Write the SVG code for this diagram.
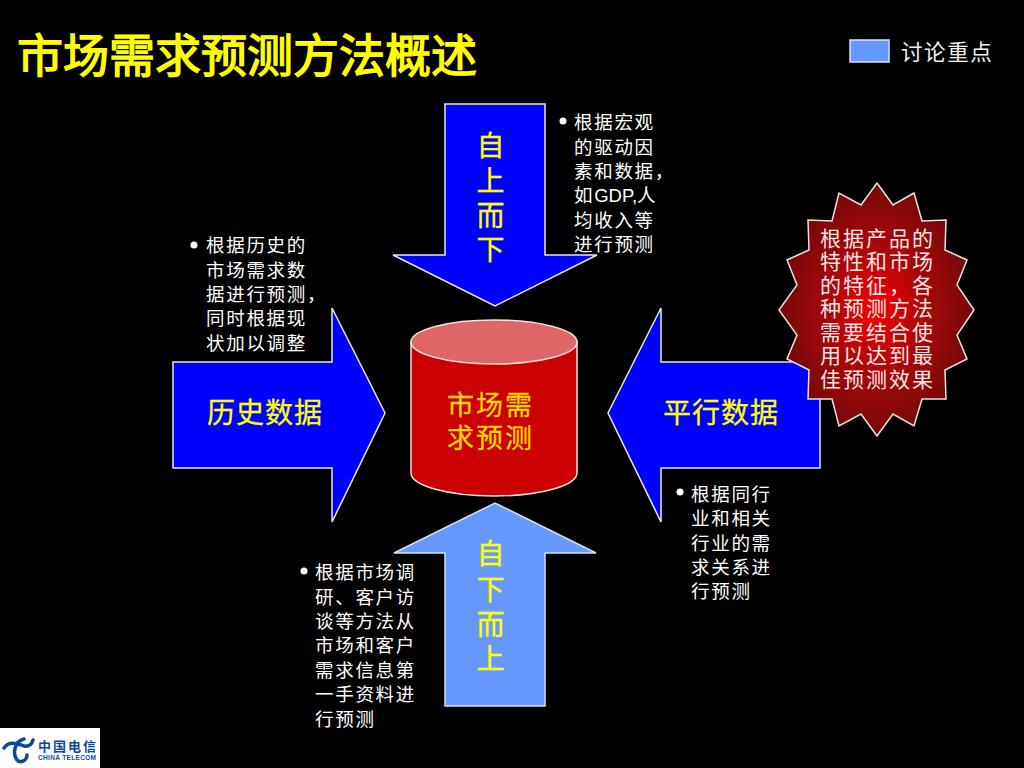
<svg xmlns="http://www.w3.org/2000/svg" width="1024" height="768" viewBox="0 0 1024 768">
<style>
text{font-family:"Noto Sans CJK SC","Liberation Sans",sans-serif}
.ar{fill:#0000ff;stroke:#e8e8f0;stroke-width:1.5}
.lt{fill:#6699ff;stroke:#d8e0f0;stroke-width:1.5}
.lb{fill:#ffff00;font-size:28px;letter-spacing:1px;stroke:#ffff00;stroke-width:.3}
.cy{fill:#ffd800;font-size:27px;letter-spacing:2px;stroke:#ffd800;stroke-width:.3}
.b{fill:#ffffff;font-size:18.5px;letter-spacing:1.7px}
.s{fill:#f8e4e4;font-size:21px;letter-spacing:2px}
.g{font-family:"Liberation Sans",sans-serif;letter-spacing:0}
</style>
<defs>
<radialGradient id="burst" cx="50%" cy="50%" r="50%">
<stop offset="0" stop-color="#fa0000"/><stop offset="0.5" stop-color="#a80808"/><stop offset="1" stop-color="#740808"/>
</radialGradient>
</defs>
<rect width="1024" height="768" fill="#000000"/>
<g id="title"><text x="17" y="72" font-size="46" fill="#ffff00" stroke="#ffff00" stroke-width="1.4" textLength="460">市场需求预测方法概述</text></g>
<g id="legend">
<rect x="850" y="40" width="39" height="22" class="lt"/>
<text x="901" y="60" font-size="21.5" letter-spacing="1.6" fill="#f0f0f0">讨论重点</text>
</g>
<g id="connectors">
<polygon id="arrow-top" class="ar" points="445,104 545,104 545,255 597,255 495,306 393,255 445,255"/>
<polygon id="arrow-left" class="ar" points="173,362 332,362 332,308 385,413 332,522 332,468 173,468"/>
<polygon id="arrow-right" class="ar" points="820,362 661,362 661,308 608,413 661,522 661,468 820,468"/>
<polygon id="arrow-bottom" class="lt" points="445,706 545,706 545,553 596,553 495,503 394,553 445,553"/>
</g>
<g id="label-top">
<text x="491" text-anchor="middle" class="lb"><tspan x="491" y="156">自</tspan><tspan x="491" y="191">上</tspan><tspan x="491" y="226">而</tspan><tspan x="491" y="260">下</tspan></text>
</g>
<g id="label-left"><text x="207" y="423" class="lb">历史数据</text></g>
<g id="label-right"><text x="663" y="423" class="lb">平行数据</text></g>
<g id="label-bottom">
<text x="491" text-anchor="middle" class="lb"><tspan x="491" y="564">自</tspan><tspan x="491" y="600">下</tspan><tspan x="491" y="635">而</tspan><tspan x="491" y="669">上</tspan></text>
</g>
<g id="cylinder">
<path d="M411,342 V473 A83,23 0 0 0 577,473 V342 Z" fill="#cc0000" stroke="#f0e0e0" stroke-width="1.5"/>
<ellipse cx="494" cy="342" rx="83" ry="22" fill="#e06666" stroke="#f0e0e0" stroke-width="1.5"/>
<text class="cy"><tspan x="447" y="415">市场需</tspan><tspan x="447" y="448">求预测</tspan></text>
</g>
<g id="burst">
<polygon fill="url(#burst)" stroke="#f0e0e0" stroke-width="1.5" points="877,183 893,205 914,193 922,221 946,220 945,250 967,260 957,285 974,310 957,335 967,359 945,370 946,399 922,399 914,426 893,414 877,436 861,414 839,426 832,399 808,399 809,370 787,359 797,335 779,310 797,285 787,260 809,250 808,220 832,221 839,193 861,205"/>
<text class="s"><tspan x="820" y="246">根据产品的</tspan><tspan x="820" y="269">特性和市场</tspan><tspan x="820" y="293">的特征，各</tspan><tspan x="820" y="316">种预测方法</tspan><tspan x="820" y="340">需要结合使</tspan><tspan x="820" y="363">用以达到最</tspan><tspan x="820" y="387">佳预测效果</tspan></text>
</g>
<g id="note-top">
<circle cx="563" cy="121" r="3.5" fill="#fff"/>
<text class="b"><tspan x="574" y="129">根据宏观</tspan><tspan x="574" y="154">的驱动因</tspan><tspan x="574" y="178">素和数据，</tspan><tspan x="574" y="202">如</tspan><tspan class="g">GDP,</tspan><tspan>人</tspan><tspan x="574" y="227">均收入等</tspan><tspan x="574" y="251">进行预测</tspan></text>
</g>
<g id="note-left">
<circle cx="194" cy="245" r="3.5" fill="#fff"/>
<text class="b"><tspan x="206" y="252">根据历史的</tspan><tspan x="206" y="277">市场需求数</tspan><tspan x="206" y="301">据进行预测，</tspan><tspan x="206" y="325">同时根据现</tspan><tspan x="206" y="350">状加以调整</tspan></text>
</g>
<g id="note-right">
<circle cx="680" cy="492" r="3.5" fill="#fff"/>
<text class="b"><tspan x="691" y="501">根据同行</tspan><tspan x="691" y="525">业和相关</tspan><tspan x="691" y="550">行业的需</tspan><tspan x="691" y="574">求关系进</tspan><tspan x="691" y="598">行预测</tspan></text>
</g>
<g id="note-bottom">
<circle cx="304" cy="571" r="3.5" fill="#fff"/>
<text class="b"><tspan x="315" y="579">根据市场调</tspan><tspan x="315" y="604">研、客户访</tspan><tspan x="315" y="628">谈等方法从</tspan><tspan x="315" y="652">市场和客户</tspan><tspan x="315" y="677">需求信息第</tspan><tspan x="315" y="701">一手资料进</tspan><tspan x="315" y="726">行预测</tspan></text>
</g>
<g id="logo">
<rect x="0" y="728" width="100" height="40" fill="#ffffff"/>
<path d="M4,748 C9,740 18,744 24,746 C29,747 32,744 33,740 M24,739 C15,741 12,753 17,760 C21,764 27,760 27,755" fill="none" stroke="#0a4a9a" stroke-width="3.5" stroke-linecap="round"/>
<text x="38" y="751" font-size="13" font-weight="700" fill="#0a4a9a" textLength="58">中国电信</text>
<text x="38" y="760" font-size="6.5" font-weight="700" fill="#0a4a9a" textLength="58" style="font-family:'Liberation Sans',sans-serif">CHINA TELECOM</text>
</g>
</svg>
